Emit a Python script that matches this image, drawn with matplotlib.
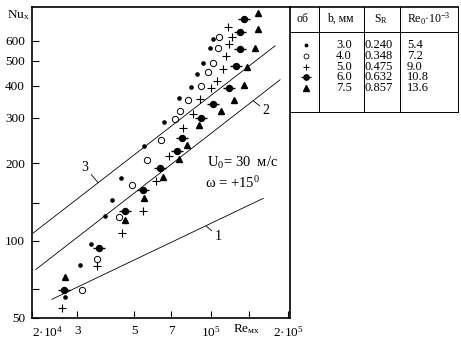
import matplotlib as mpl
import matplotlib.pyplot as plt
import matplotlib.ticker as ticker

mpl.rcParams['font.family'] = ['Liberation Serif', 'DejaVu Serif']
mpl.rcParams['mathtext.fontset'] = 'custom'
mpl.rcParams['mathtext.rm'] = 'Liberation Serif'
mpl.rcParams['mathtext.it'] = 'Liberation Serif:italic'
mpl.rcParams['mathtext.bf'] = 'Liberation Serif:bold'

# experimental points: Re_mx and Nu_x for each slot width
re_1 = [26800, 30800, 34000, 38400, 40900, 44500, 54800, 65500, 74600, 83200, 87800, 93200, 99000, 101200]
nu_1 = [60.2, 80.1, 97.1, 124.7, 143.9, 174.8, 233, 289, 360, 394, 445, 492, 560, 610]

re_2 = [31300, 36000, 43800, 49000, 56400, 63700, 72300, 75600, 81000, 91500, 97500, 101400, 105900, 107600]
nu_2 = [64.4, 84.8, 124, 165, 205, 246, 297, 320, 351, 398, 452, 492, 562, 618]

re_3 = [26200, 35700, 44800, 54000, 60800, 68500, 77300, 84600, 90500, 99900, 105100, 111300, 114000, 117100, 120900, 116000]
nu_3 = [54.6, 79.9, 107, 130, 170, 214, 274, 311, 356, 391, 418, 465, 521, 582, 618, 675]

re_4 = [26700, 36600, 46100, 54400, 62900, 73300, 76800, 90900, 101700, 117400, 124800, 129200, 129900, 134700]
nu_4 = [64.4, 93.4, 130, 158, 191, 223, 251, 301, 340, 392, 479, 558, 645, 730]

re_5 = [27000, 46300, 54700, 64600, 74900, 80500, 89800, 109300, 122600, 134600, 137700, 148000, 152300, 151900]
nu_5 = [71.9, 120, 147, 176, 208, 236, 281, 318, 352, 403, 472, 562, 664, 766]

# reference lines 1, 2, 3 (end points)
re_line1 = [23900, 159700]
nu_line1 = [59.1, 146]
re_line2 = [20700, 185600]
nu_line2 = [77.2, 422]
re_line3 = [20200, 177500]
nu_line3 = [107, 572]

# table
tab_head = ['об', 'b, мм', 'S$_\\mathrm{R}$', 'Re$_0$·10$^{-3}$']
b_mm = ['3.0', '4.0', '5.0', '6.0', '7.5']
s_r = ['0.240', '0.348', '0.475', '0.632', '0.857']
re_0 = ['5.4', '7.2', '9.0', '10.8', '13.6']

x_ticks = [2e4, 3e4, 5e4, 7e4, 1e5, 1.4e5, 2e5]
x_labels = ['2·10$^4$', '3', '5', '7', '10$^5$', '', '2·10$^5$']
y_ticks = [50, 65, 100, 140, 200, 300, 400, 500, 600]
y_labels = ['50', '', '100', '', '200', '300', '400', '500', '600']

W, H = 461, 344
fig = plt.figure(figsize=(W / 100, H / 100), dpi=100)
ax = fig.add_axes([32 / W, 26 / H, 258 / W, 311 / H])

dot = dict(color='black', marker='o', markersize=2.3, linestyle='none')
circ = dict(color='black', marker='o', markersize=4.5, markerfacecolor='white', markeredgewidth=0.7, linestyle='none')
plus = dict(color='black', marker='+', markersize=5.5, markeredgewidth=0.8, linestyle='none')
disk = dict(color='black', marker='o', markersize=4.3, linestyle='none')
bar = dict(color='black', marker='_', markersize=9, markeredgewidth=1.0, linestyle='none')
tri = dict(color='black', marker='^', markersize=4.6, linestyle='none')

ax.plot(re_1, nu_1, **dot)
ax.plot(re_2, nu_2, **circ)
ax.plot(re_3, nu_3, **plus)
ax.plot(re_4, nu_4, **disk)
ax.plot(re_4, nu_4, **bar)
ax.plot(re_5, nu_5, **tri)

for xs, ys in [(re_line1, nu_line1), (re_line2, nu_line2), (re_line3, nu_line3)]:
    ax.plot(xs, ys, color='black', linewidth=0.6)

lead = dict(arrowstyle='-', linewidth=0.6, shrinkA=0, shrinkB=0)
ax.annotate('3', xy=(36200, 168), xytext=(32200, 193), fontsize=10, ha='center', va='center', arrowprops=lead)
ax.annotate('2', xy=(145700, 350), xytext=(163700, 320), fontsize=10, ha='center', va='center', arrowprops=lead)
ax.annotate('1', xy=(95500, 114), xytext=(106300, 104), fontsize=10, ha='center', va='center', arrowprops=lead)

ax.text(0.678, 0.498, 'U$_0$= 30  м/с', transform=ax.transAxes, fontsize=10.5, va='center')
ax.text(0.671, 0.434, 'ω = +15$^0$', transform=ax.transAxes, fontsize=10.5, va='center')

ax.set_xscale('log')
ax.set_yscale('log')
ax.set_xlim(2e4, 2.03e5)
ax.set_ylim(50, 810)
ax.set_xticks(x_ticks)
ax.set_xticklabels(x_labels)
ax.set_yticks(y_ticks)
ax.set_yticklabels(y_labels)
ax.xaxis.set_minor_locator(ticker.NullLocator())
ax.yaxis.set_minor_locator(ticker.NullLocator())
ax.tick_params(direction='in', length=5, width=0.8, labelsize=9.5, pad=5)
ax.get_xticklabels()[0].set_horizontalalignment('left')
for s in ax.spines.values():
    s.set_linewidth(1.2)

# overlay in pixel coordinates for table and axis names
ov = fig.add_axes([0, 0, 1, 1])
ov.set_xlim(0, W)
ov.set_ylim(H, 0)
ov.axis('off')

ov.text(7, 15, 'Nu$_\\mathrm{x}$', fontsize=9.5, va='center', ha='left')
ov.text(233, 329, 'Re$_{\\mathrm{мх}}$', fontsize=9.5, va='center', ha='left')

col_x = [290, 319, 364, 399.5, 458]
top, head, bottom = 7, 32, 112
lw = 0.7
ov.plot([col_x[0], col_x[-1]], [top, top], color='black', linewidth=1.2)
ov.plot([col_x[0], col_x[-1]], [head, head], color='black', linewidth=lw)
ov.plot([col_x[0], col_x[-1]], [bottom, bottom], color='black', linewidth=lw)
for cx in col_x[1:]:
    ov.plot([cx, cx], [top, bottom], color='black', linewidth=lw)

head_x = [302, 340, 381, 429]
for hx, t in zip(head_x, tab_head):
    ov.text(hx, 19, t, fontsize=8.5, ha='center', va='center')

row_y = [45, 55.8, 66.6, 77.4, 88.2]
mk = [dict(marker='o', markersize=1.8), dict(marker='o', markersize=3.5, markerfacecolor='white', markeredgewidth=0.6),
      dict(marker='+', markersize=4.5, markeredgewidth=0.7), None, dict(marker='^', markersize=4)]
for i, ry in enumerate(row_y):
    if mk[i] is None:
        ov.plot([306], [ry], color='black', marker='o', markersize=3.8, linestyle='none')
        ov.plot([306], [ry], color='black', marker='_', markersize=7.5, markeredgewidth=0.9, linestyle='none')
    else:
        ov.plot([306], [ry], color='black', linestyle='none', **mk[i])
    ov.text(344, ry, b_mm[i], fontsize=9, ha='center', va='center')
    ov.text(379, ry, s_r[i], fontsize=9, ha='center', va='center')
    ov.text(407, ry, re_0[i], fontsize=9, ha='left', va='center')

plt.savefig('out.png', dpi=100)
